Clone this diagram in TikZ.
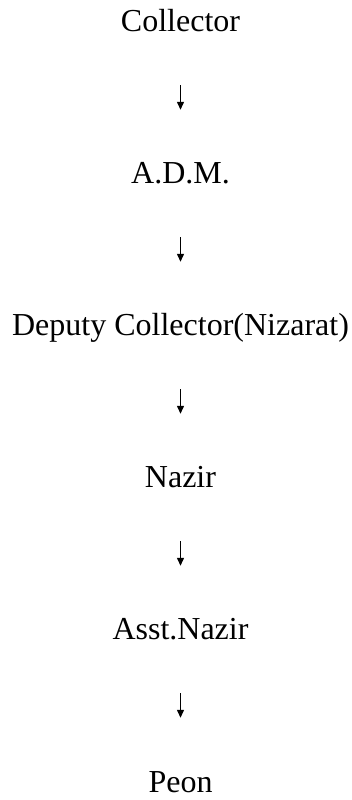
\documentclass[tikz,border=0pt]{standalone}
\usepackage{fontspec}
\setmainfont{Liberation Serif}
\usetikzlibrary{arrows.meta}

\begin{document}
\begin{tikzpicture}[x=1pt,y=1pt,
    post/.style={anchor=base,inner sep=0pt,text height=22pt,text depth=7pt,font=\fontsize{32}{38}\selectfont},
    link/.style={-{Triangle[length=8pt,width=7pt]},line width=1.3pt,shorten <=46pt,shorten >=52pt}
  ]
    \useasboundingbox (0,0) rectangle (351,800);

    % Posts - one line every 152pt
    \node[post] (col) at (180.5,768) {Collector};
    \node[post] (adm) at (180.5,616) {A.D.M.};
    \node[post] (dc) at (180.5,464) {Deputy Collector(Nizarat)};
    \node[post] (naz) at (180.5,312) {Nazir};
    \node[post] (asst) at (180.5,160) {Asst.Nazir};
    \node[post,text depth=1pt] (peon) at (180.5,8) {Peon};

    % Chain of command
    \foreach \a/\b in {col/adm,adm/dc,dc/naz,naz/asst,asst/peon}
      \draw[link] (\a) -- (\b);
\end{tikzpicture}
\end{document}
